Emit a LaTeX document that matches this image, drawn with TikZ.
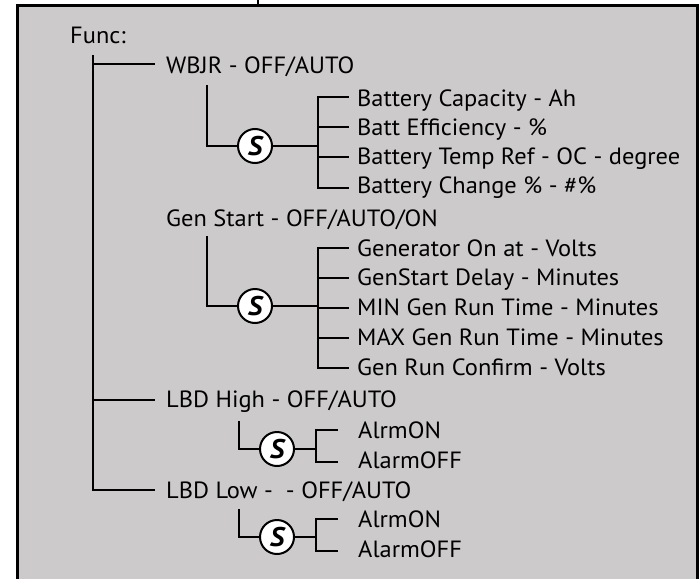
\documentclass[tikz,border=0pt]{standalone}
\usepackage{fontspec}
\setmainfont{PT Sans}[FakeStretch=1.04]
\newfontfamily\badgefont{PT Sans}[FakeStretch=1.05]
\definecolor{panel}{RGB}{204,202,203}
\begin{document}
\begin{tikzpicture}[x=1pt,y=-1pt,
  lbl/.style={anchor=base west,inner sep=0pt,font=\fontsize{23.5}{27}\selectfont},
  tree/.style={line width=2.5pt,line cap=rect},
  sbadge/.style={circle,draw,fill=white,line width=2pt,minimum size=34pt,inner sep=0pt,font=\badgefont\fontsize{27}{27}\selectfont\bfseries\itshape}]
\useasboundingbox (0,0) rectangle (700,578);
\begin{scope}
\clip (0,0) rectangle (700,578);
\draw[line width=3pt,fill=panel] (17,6) rectangle (697,640);
\draw[line width=2.5pt] (258,0) -- (258,6);
\end{scope}
% labels
\node[lbl] (func) at (70,44) {Func:};
\node[lbl] (wbjr) at (166,73) {WBJR - OFF/AUTO};
\node[lbl] (w1) at (357,106) {Battery Capacity - Ah};
\node[lbl] (w2) at (357,135) {Batt Efficiency - \%};
\node[lbl] (w3) at (357,164) {Battery Temp Ref - OC - degree};
\node[lbl] (w4) at (357,193) {Battery Change \% - \#\%};
\node[lbl] (gen) at (166,226) {Gen Start - OFF/AUTO/ON};
\node[lbl] (g1) at (357,256) {Generator On at - Volts};
\node[lbl] (g2) at (357,285) {GenStart Delay - Minutes};
\node[lbl] (g3) at (357,315) {MIN Gen Run Time - Minutes};
\node[lbl] (g4) at (357,345) {MAX Gen Run Time - Minutes};
\node[lbl] (g5) at (357,375) {Gen Run Confirm - Volts};
\node[lbl] (lh) at (166,407) {LBD High - OFF/AUTO};
\node[lbl] (h1) at (358,438) {AlrmON};
\node[lbl] (h2) at (358,468) {AlarmOFF};
\node[lbl] (ll) at (166,498) {LBD Low -~~- OFF/AUTO};
\node[lbl] (l1) at (358,527) {AlrmON};
\node[lbl] (l2) at (358,557) {AlarmOFF};
% main trunk
\coordinate (mt) at (93,56);
\coordinate (mw) at (93,64);
\coordinate (mh) at (93,400);
\coordinate (ml) at (93,490);
\coordinate (ew) at (154,64);
\coordinate (eh) at (154,400);
\coordinate (el) at (154,490);
\draw[tree] (mt) -- (ml) -- (el);
\draw[tree] (mw) -- (ew);
\draw[tree] (mh) -- (eh);
% WBJR subtree
\node[sbadge] (sw) at (255,146) {S};
\coordinate (swt) at (207,86);
\coordinate (swc) at (207,146);
\coordinate (bw) at (318,146);
\draw[tree] (swt) -- (swc) -- (sw);
\draw[tree] (sw) -- (bw);
\draw[tree] (318,97) -- (318,188);
\foreach \y in {97,127,157,188} \draw[tree] (318,\y) -- (348,\y);
% Gen subtree
\node[sbadge] (sg) at (255,306) {S};
\coordinate (sgt) at (207,237);
\coordinate (sgc) at (207,306);
\coordinate (bg) at (318,306);
\draw[tree] (sgt) -- (sgc) -- (sg);
\draw[tree] (sg) -- (bg);
\draw[tree] (318,248) -- (318,368);
\foreach \y in {248,278,308,338,368} \draw[tree] (318,\y) -- (348,\y);
% LBD High subtree
\node[sbadge] (sh) at (277,449) {S};
\coordinate (sht) at (239,422);
\coordinate (shc) at (239,449);
\coordinate (bh) at (316,449);
\draw[tree] (sht) -- (shc) -- (sh);
\draw[tree] (sh) -- (bh);
\draw[tree] (337,430) -- (316,430) -- (316,462) -- (337,462);
% LBD Low subtree
\node[sbadge] (sl) at (277,537) {S};
\coordinate (slt) at (239,510);
\coordinate (slc) at (239,537);
\coordinate (bl) at (316,537);
\draw[tree] (slt) -- (slc) -- (sl);
\draw[tree] (sl) -- (bl);
\draw[tree] (337,519) -- (316,519) -- (316,551) -- (337,551);
\end{tikzpicture}
\end{document}
